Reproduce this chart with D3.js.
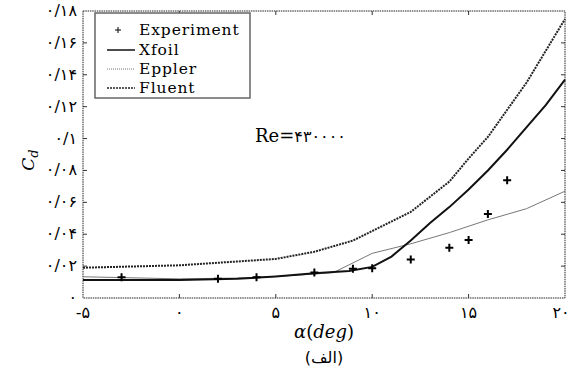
<!DOCTYPE html>
<html>
<head>
<meta charset="utf-8">
<script src="https://cdn.jsdelivr.net/npm/d3@7"></script>
<style>
  body { margin: 0; background: #fff; }
  svg { display: block; }
</style>
</head>
<body>
<svg width="574" height="376"></svg>
<script>
// ---------- data ----------
var expAlpha = [-3, 2, 4, 7, 9, 10, 12, 14, 15, 16, 17];
var expCd    = [0.013, 0.012, 0.013, 0.016, 0.0183, 0.0187, 0.0242, 0.0315, 0.0363, 0.0527, 0.0738];

var xfoilAlpha = [-5, 0, 3, 5, 7, 8.8, 10, 11, 12, 13, 14, 15, 16, 17, 18, 19, 20];
var xfoilCd    = [0.0113, 0.0113, 0.012, 0.0135, 0.0155, 0.017, 0.0195, 0.026, 0.036, 0.047, 0.057, 0.068, 0.080, 0.093, 0.107, 0.121, 0.137];

var epplerAlpha = [-5, -3, 0, 3, 5, 7, 8, 10, 12, 14, 16, 18, 20];
var epplerCd    = [0.0133, 0.0128, 0.012, 0.0125, 0.0135, 0.015, 0.016, 0.028, 0.034, 0.041, 0.049, 0.056, 0.067];

var fluentAlpha = [-5, 0, 5, 7, 9, 10, 12, 14, 15, 16, 18, 20];
var fluentCd    = [0.019, 0.0205, 0.0245, 0.029, 0.036, 0.042, 0.054, 0.073, 0.0875, 0.101, 0.135, 0.175];

var xTicks = [-5, 0, 5, 10, 15, 20];
var xTickLabels = ["-۵", "۰", "۵", "۱۰", "۱۵", "۲۰"];
var yTicks = [0, 0.02, 0.04, 0.06, 0.08, 0.1, 0.12, 0.14, 0.16, 0.18];
var yTickLabels = ["۰", "۰/۰۲", "۰/۰۴", "۰/۰۶", "۰/۰۸", "۰/۱", "۰/۱۲", "۰/۱۴", "۰/۱۶", "۰/۱۸"];

var legendNames = ["Experiment", "Xfoil", "Eppler", "Fluent"];

// ---------- layout ----------
var svg = d3.select("svg");
var margin = { top: 11, right: 9, bottom: 78, left: 83 };
var width = 574 - margin.left - margin.right;
var height = 376 - margin.top - margin.bottom;
var g = svg.append("g").attr("transform", "translate(" + margin.left + "," + margin.top + ")");

var x = d3.scaleLinear().domain([-5, 20]).range([0, width]);
var y = d3.scaleLinear().domain([0, 0.18]).range([height, 0]);

var faFont = "DejaVu Sans, Noto Sans, sans-serif";
var serif = "DejaVu Serif, Liberation Serif, serif";

// frame
g.append("rect")
    .attr("width", width).attr("height", height)
    .style("fill", "none").style("stroke", "#222").style("stroke-width", 1)
    .style("stroke-dasharray", "1.5,0.8");

// ticks (inward, both sides)
var tickLen = 4;
xTicks.slice(1, -1).forEach(function(t) {
    g.append("line").attr("x1", x(t)).attr("x2", x(t)).attr("y1", height).attr("y2", height - tickLen)
        .style("stroke", "#333");
    g.append("line").attr("x1", x(t)).attr("x2", x(t)).attr("y1", 0).attr("y2", tickLen)
        .style("stroke", "#333");
});
yTicks.slice(1, -1).forEach(function(t) {
    g.append("line").attr("x1", 0).attr("x2", tickLen).attr("y1", y(t)).attr("y2", y(t))
        .style("stroke", "#333");
    g.append("line").attr("x1", width).attr("x2", width - tickLen).attr("y1", y(t)).attr("y2", y(t))
        .style("stroke", "#333");
});

// tick labels
g.selectAll(".xlab")
    .data(xTicks)
    .enter().append("text")
    .attr("x", function(d) { return x(d) - (d === 20 ? 4 : 0); })
    .attr("y", height + 20)
    .attr("direction", "ltr")
    .style("text-anchor", "middle")
    .style("font-family", faFont)
    .style("font-size", "16px")
    .text(function(d, i) { return xTickLabels[i]; });

g.selectAll(".ylab")
    .data(yTicks)
    .enter().append("text")
    .attr("x", -6)
    .attr("y", function(d) { return y(d) + 5; })
    .attr("direction", "ltr")
    .style("text-anchor", "end")
    .style("font-family", faFont)
    .style("font-size", "16px")
    .text(function(d, i) { return yTickLabels[i]; });

// axis titles
var xt = svg.append("text")
    .attr("x", margin.left + width / 2)
    .attr("y", 338)
    .style("text-anchor", "middle")
    .style("font-family", serif)
    .style("font-size", "18px");
xt.append("tspan").style("font-style", "italic").text("α");
xt.append("tspan").text("(");
xt.append("tspan").style("font-style", "italic").text("deg");
xt.append("tspan").text(")");

svg.append("text")
    .attr("x", margin.left + width / 2)
    .attr("y", 363)
    .style("text-anchor", "middle")
    .style("font-family", faFont)
    .style("font-size", "16px")
    .text("(الف)");

var yt = svg.append("text")
    .attr("transform", "translate(34,160) rotate(-90)")
    .style("text-anchor", "middle")
    .style("font-family", serif)
    .style("font-style", "italic")
    .style("font-size", "17px");
yt.append("tspan").text("C");
yt.append("tspan").attr("dy", 4).style("font-size", "13px").text("d");

// series lines
var line = d3.line()
    .x(function(d) { return x(d[0]); })
    .y(function(d) { return y(d[1]); });

var series = [
    { name: "Eppler", a: epplerAlpha, c: epplerCd, stroke: "#777", width: 1, dash: null },
    { name: "Fluent", a: fluentAlpha, c: fluentCd, stroke: "#222", width: 2, dash: "2,1" },
    { name: "Xfoil",  a: xfoilAlpha,  c: xfoilCd,  stroke: "#111", width: 2, dash: null }
];
series.forEach(function(s) {
    g.append("path")
        .datum(d3.zip(s.a, s.c))
        .attr("d", line)
        .style("fill", "none")
        .style("stroke", s.stroke)
        .style("stroke-width", s.width)
        .style("stroke-dasharray", s.dash);
});

// experiment markers
function plus(sel, cx, cy, r) {
    sel.append("path")
        .attr("d", "M" + (cx - r) + "," + cy + "H" + (cx + r) + "M" + cx + "," + (cy - r) + "V" + (cy + r))
        .style("stroke", "#000").style("stroke-width", 2);
}
d3.zip(expAlpha, expCd).forEach(function(d) {
    plus(g, x(d[0]), y(d[1]), 4);
});

// Re label
var re = g.append("text")
    .attr("x", 172)
    .attr("y", 131)
    .attr("direction", "ltr")
    .style("font-family", serif)
    .style("font-size", "18px");
re.append("tspan").text("Re=");
re.append("tspan").style("font-family", faFont).style("font-size", "16px").style("letter-spacing", "1px").text("۴۳۰۰۰۰");

// legend
var lg = svg.append("g").attr("transform", "translate(95,13)");
lg.append("rect")
    .attr("width", 155).attr("height", 85)
    .style("fill", "#fff").style("stroke", "#666").style("stroke-width", 1.5);

var legendStyles = [
    null,
    { stroke: "#111", width: 1.5, dash: null },
    { stroke: "#777", width: 1, dash: "1,1" },
    { stroke: "#222", width: 1.5, dash: "2,1" }
];
var legendY = [17, 37, 56, 75];
legendNames.forEach(function(name, i) {
    var ly = legendY[i];
    if (legendStyles[i] === null) {
        lg.append("path")
            .attr("d", "M20," + ly + "H26M23," + (ly - 3) + "V" + (ly + 3))
            .style("stroke", "#000").style("stroke-width", 1);
    } else {
        lg.append("line")
            .attr("x1", 12).attr("x2", 40).attr("y1", ly).attr("y2", ly)
            .style("stroke", legendStyles[i].stroke)
            .style("stroke-width", legendStyles[i].width)
            .style("stroke-dasharray", legendStyles[i].dash);
    }
    lg.append("text")
        .attr("x", 44)
        .attr("y", ly + 5)
        .style("font-family", serif)
        .style("font-size", "15.5px")
        .style("letter-spacing", "0.9px")
        .text(name);
});
</script>
</body>
</html>
